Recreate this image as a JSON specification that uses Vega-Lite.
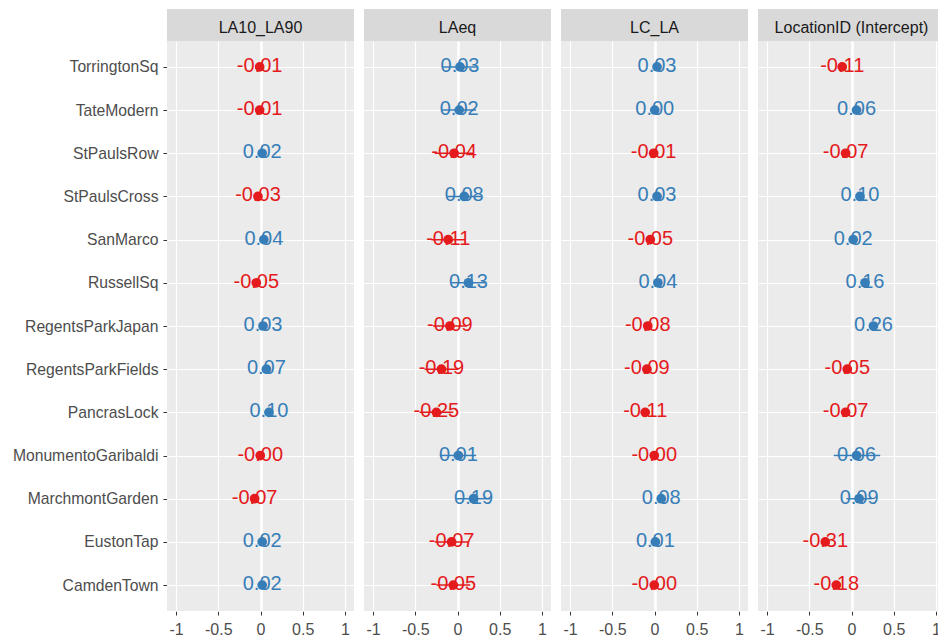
{
  "$schema": "https://vega.github.io/schema/vega-lite/v6.json",
  "background": "white",
  "padding": {"left": 12, "top": 9, "right": 0, "bottom": 0},
  "config": {"view": {"stroke": null}, "font": "Liberation Sans"},
  "spacing": 0,
  "datasets": {
    "strips": [
      {"term": "LA10_LA90"},
      {"term": "LAeq"},
      {"term": "LC_LA"},
      {"term": "LocationID (Intercept)"}
    ],
    "effects": [
      {"term": "LA10_LA90", "loc": "TorringtonSq", "est": -0.01, "lo": -0.04, "hi": 0.02, "label": "-0.01"},
      {"term": "LA10_LA90", "loc": "TateModern", "est": -0.01, "lo": -0.04, "hi": 0.02, "label": "-0.01"},
      {"term": "LA10_LA90", "loc": "StPaulsRow", "est": 0.02, "lo": -0.01, "hi": 0.05, "label": "0.02"},
      {"term": "LA10_LA90", "loc": "StPaulsCross", "est": -0.03, "lo": -0.06, "hi": 0.0, "label": "-0.03"},
      {"term": "LA10_LA90", "loc": "SanMarco", "est": 0.04, "lo": 0.01, "hi": 0.07, "label": "0.04"},
      {"term": "LA10_LA90", "loc": "RussellSq", "est": -0.05, "lo": -0.08, "hi": -0.02, "label": "-0.05"},
      {"term": "LA10_LA90", "loc": "RegentsParkJapan", "est": 0.03, "lo": 0.0, "hi": 0.06, "label": "0.03"},
      {"term": "LA10_LA90", "loc": "RegentsParkFields", "est": 0.07, "lo": 0.04, "hi": 0.1, "label": "0.07"},
      {"term": "LA10_LA90", "loc": "PancrasLock", "est": 0.1, "lo": 0.07, "hi": 0.13, "label": "0.10"},
      {"term": "LA10_LA90", "loc": "MonumentoGaribaldi", "est": -0.003, "lo": -0.03, "hi": 0.025, "label": "-0.00"},
      {"term": "LA10_LA90", "loc": "MarchmontGarden", "est": -0.07, "lo": -0.1, "hi": -0.04, "label": "-0.07"},
      {"term": "LA10_LA90", "loc": "EustonTap", "est": 0.02, "lo": -0.01, "hi": 0.05, "label": "0.02"},
      {"term": "LA10_LA90", "loc": "CamdenTown", "est": 0.02, "lo": -0.01, "hi": 0.05, "label": "0.02"},

      {"term": "LAeq", "loc": "TorringtonSq", "est": 0.03, "lo": -0.17, "hi": 0.23, "label": "0.03"},
      {"term": "LAeq", "loc": "TateModern", "est": 0.02, "lo": -0.18, "hi": 0.22, "label": "0.02"},
      {"term": "LAeq", "loc": "StPaulsRow", "est": -0.04, "lo": -0.27, "hi": 0.19, "label": "-0.04"},
      {"term": "LAeq", "loc": "StPaulsCross", "est": 0.08, "lo": -0.12, "hi": 0.28, "label": "0.08"},
      {"term": "LAeq", "loc": "SanMarco", "est": -0.11, "lo": -0.31, "hi": 0.09, "label": "-0.11"},
      {"term": "LAeq", "loc": "RussellSq", "est": 0.13, "lo": -0.07, "hi": 0.33, "label": "0.13"},
      {"term": "LAeq", "loc": "RegentsParkJapan", "est": -0.09, "lo": -0.29, "hi": 0.11, "label": "-0.09"},
      {"term": "LAeq", "loc": "RegentsParkFields", "est": -0.19, "lo": -0.39, "hi": 0.01, "label": "-0.19"},
      {"term": "LAeq", "loc": "PancrasLock", "est": -0.25, "lo": -0.45, "hi": -0.05, "label": "-0.25"},
      {"term": "LAeq", "loc": "MonumentoGaribaldi", "est": 0.01, "lo": -0.21, "hi": 0.22, "label": "0.01"},
      {"term": "LAeq", "loc": "MarchmontGarden", "est": 0.19, "lo": -0.01, "hi": 0.39, "label": "0.19"},
      {"term": "LAeq", "loc": "EustonTap", "est": -0.07, "lo": -0.27, "hi": 0.13, "label": "-0.07"},
      {"term": "LAeq", "loc": "CamdenTown", "est": -0.05, "lo": -0.25, "hi": 0.15, "label": "-0.05"},

      {"term": "LC_LA", "loc": "TorringtonSq", "est": 0.03, "lo": 0.0, "hi": 0.06, "label": "0.03"},
      {"term": "LC_LA", "loc": "TateModern", "est": 0.003, "lo": -0.025, "hi": 0.03, "label": "0.00"},
      {"term": "LC_LA", "loc": "StPaulsRow", "est": -0.01, "lo": -0.04, "hi": 0.02, "label": "-0.01"},
      {"term": "LC_LA", "loc": "StPaulsCross", "est": 0.03, "lo": 0.0, "hi": 0.06, "label": "0.03"},
      {"term": "LC_LA", "loc": "SanMarco", "est": -0.05, "lo": -0.08, "hi": -0.02, "label": "-0.05"},
      {"term": "LC_LA", "loc": "RussellSq", "est": 0.04, "lo": 0.01, "hi": 0.07, "label": "0.04"},
      {"term": "LC_LA", "loc": "RegentsParkJapan", "est": -0.08, "lo": -0.11, "hi": -0.05, "label": "-0.08"},
      {"term": "LC_LA", "loc": "RegentsParkFields", "est": -0.09, "lo": -0.12, "hi": -0.06, "label": "-0.09"},
      {"term": "LC_LA", "loc": "PancrasLock", "est": -0.11, "lo": -0.14, "hi": -0.08, "label": "-0.11"},
      {"term": "LC_LA", "loc": "MonumentoGaribaldi", "est": -0.003, "lo": -0.03, "hi": 0.025, "label": "-0.00"},
      {"term": "LC_LA", "loc": "MarchmontGarden", "est": 0.08, "lo": 0.05, "hi": 0.11, "label": "0.08"},
      {"term": "LC_LA", "loc": "EustonTap", "est": 0.01, "lo": -0.02, "hi": 0.04, "label": "0.01"},
      {"term": "LC_LA", "loc": "CamdenTown", "est": -0.003, "lo": -0.03, "hi": 0.025, "label": "-0.00"},

      {"term": "LocationID (Intercept)", "loc": "TorringtonSq", "est": -0.11, "lo": -0.15, "hi": -0.07, "label": "-0.11"},
      {"term": "LocationID (Intercept)", "loc": "TateModern", "est": 0.06, "lo": 0.02, "hi": 0.1, "label": "0.06"},
      {"term": "LocationID (Intercept)", "loc": "StPaulsRow", "est": -0.07, "lo": -0.11, "hi": -0.03, "label": "-0.07"},
      {"term": "LocationID (Intercept)", "loc": "StPaulsCross", "est": 0.1, "lo": 0.06, "hi": 0.14, "label": "0.10"},
      {"term": "LocationID (Intercept)", "loc": "SanMarco", "est": 0.02, "lo": -0.02, "hi": 0.06, "label": "0.02"},
      {"term": "LocationID (Intercept)", "loc": "RussellSq", "est": 0.16, "lo": 0.12, "hi": 0.2, "label": "0.16"},
      {"term": "LocationID (Intercept)", "loc": "RegentsParkJapan", "est": 0.26, "lo": 0.22, "hi": 0.3, "label": "0.26"},
      {"term": "LocationID (Intercept)", "loc": "RegentsParkFields", "est": -0.05, "lo": -0.09, "hi": -0.01, "label": "-0.05"},
      {"term": "LocationID (Intercept)", "loc": "PancrasLock", "est": -0.07, "lo": -0.11, "hi": -0.03, "label": "-0.07"},
      {"term": "LocationID (Intercept)", "loc": "MonumentoGaribaldi", "est": 0.06, "lo": -0.21, "hi": 0.34, "label": "0.06"},
      {"term": "LocationID (Intercept)", "loc": "MarchmontGarden", "est": 0.09, "lo": -0.06, "hi": 0.24, "label": "0.09"},
      {"term": "LocationID (Intercept)", "loc": "EustonTap", "est": -0.31, "lo": -0.35, "hi": -0.27, "label": "-0.31"},
      {"term": "LocationID (Intercept)", "loc": "CamdenTown", "est": -0.18, "lo": -0.22, "hi": -0.14, "label": "-0.18"}
    ]
  },
  "vconcat": [
    {
      "data": {"name": "strips"},
      "facet": {
        "column": {
          "field": "term", "type": "nominal",
          "sort": ["LA10_LA90", "LAeq", "LC_LA", "LocationID (Intercept)"],
          "header": {"labels": false, "title": null}
        }
      },
      "spacing": 10,
      "spec": {
        "width": 187,
        "height": 32,
        "view": {"fill": "#D9D9D9", "stroke": null},
        "mark": {"type": "text", "fontSize": 16, "color": "#1A1A1A", "dy": 3, "font": "Liberation Sans"},
        "encoding": {"text": {"field": "term", "type": "nominal"}}
      }
    },
    {
      "data": {"name": "effects"},
      "facet": {
        "column": {
          "field": "term", "type": "nominal",
          "sort": ["LA10_LA90", "LAeq", "LC_LA", "LocationID (Intercept)"],
          "header": {"labels": false, "title": null}
        }
      },
      "spacing": 10,
      "spec": {
        "width": 187,
        "height": 570,
        "view": {"fill": "#EBEBEB", "stroke": null},
        "encoding": {
          "y": {
            "field": "loc", "type": "nominal",
            "sort": ["TorringtonSq", "TateModern", "StPaulsRow", "StPaulsCross", "SanMarco", "RussellSq", "RegentsParkJapan", "RegentsParkFields", "PancrasLock", "MonumentoGaribaldi", "MarchmontGarden", "EustonTap", "CamdenTown"],
            "scale": {"type": "point", "padding": 0.6},
            "axis": {
              "title": null, "domain": false, "grid": true, "gridColor": "white", "gridWidth": 1.2,
              "tickColor": "#333333", "tickSize": 4, "labelPadding": 5,
              "labelFontSize": 15.7, "labelColor": "#4D4D4D", "labelFont": "Liberation Sans"
            }
          },
          "color": {"condition": {"test": "datum.est < 0", "value": "#E41A1C"}, "value": "#377EB8"}
        },
        "layer": [
          {
            "mark": {"type": "rule", "strokeWidth": 1.5},
            "encoding": {
              "x": {
                "field": "lo", "type": "quantitative",
                "scale": {"domain": [-1.107, 1.107], "nice": false, "zero": false},
                "axis": {
                  "title": null, "domain": false,
                  "values": [-1, -0.75, -0.5, -0.25, 0, 0.25, 0.5, 0.75, 1],
                  "labelExpr": "datum.value % 0.5 === 0 ? '' + datum.value : ''",
                  "labelFlush": false, "labelOverlap": false,
                  "grid": true, "gridColor": "white",
                  "gridWidth": {"condition": [{"test": "datum.value === 0", "value": 2.6}, {"test": "datum.value % 0.5 !== 0", "value": 0.6}], "value": 1.2},
                  "tickSize": 4,
                  "tickColor": {"condition": {"test": "datum.value % 0.5 !== 0", "value": "transparent"}, "value": "#333333"},
                  "labelPadding": 6, "labelFontSize": 16, "labelColor": "#4D4D4D", "labelFont": "Liberation Sans"
                }
              },
              "x2": {"field": "hi"}
            }
          },
          {
            "mark": {"type": "point", "filled": true, "opacity": 1, "size": 95},
            "encoding": {"x": {"field": "est", "type": "quantitative"}}
          },
          {
            "mark": {"type": "text", "fontSize": 20, "baseline": "alphabetic", "align": "center", "dy": 5, "font": "Liberation Sans"},
            "encoding": {
              "x": {"field": "est", "type": "quantitative"},
              "text": {"field": "label", "type": "nominal"}
            }
          }
        ]
      }
    }
  ]
}
